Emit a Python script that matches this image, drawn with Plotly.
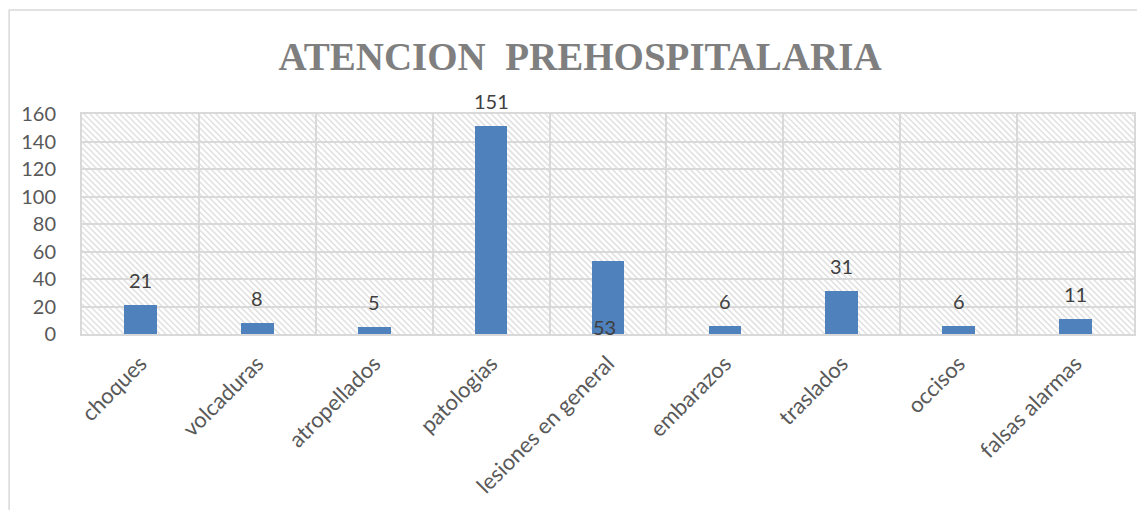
import plotly.graph_objects as go

# Data
categories = [
    "choques",
    "volcaduras",
    "atropellados",
    "patologias",
    "lesiones en general",
    "embarazos",
    "traslados",
    "occisos",
    "falsas alarmas",
]
values = [21, 8, 5, 151, 53, 6, 31, 6, 11]
y_ticks = [0, 20, 40, 60, 80, 100, 120, 140, 160]

# page body adds an 8px margin, so the figure is sized/offset to compensate
PAD = 8
W, H = 1145 - PAD, 510 - PAD
M_L, M_R, M_T, M_B = 82 - PAD, 17 - PAD, 114 - PAD, 176
PLOT_W = W - M_L - M_R
PLOT_H = H - M_T - M_B

BAR_COLOR = "#4f81bd"
GRID = "#d9d9d9"
TEXT = "#595959"
FONT = "Lato, Liberation Sans, sans-serif"

fig = go.Figure()

fig.add_trace(
    go.Bar(
        x=categories,
        y=values,
        width=0.28,
        marker=dict(color=BAR_COLOR, line=dict(width=0)),
        hovertemplate="%{x}: %{y}<extra></extra>",
        showlegend=False,
    )
)

# data labels: above each bar, except "lesiones en general" which sits at the base
for cat, val in zip(categories, values):
    if cat == "lesiones en general":
        fig.add_annotation(x=cat, y=0, text=str(val), showarrow=False,
                           yanchor="middle", yshift=7, xshift=-4,
                           font=dict(family=FONT, size=20, color="#404040"))
    else:
        fig.add_annotation(x=cat, y=val, text=str(val), showarrow=False,
                           yanchor="middle", yshift=25,
                           font=dict(family=FONT, size=20, color="#404040"))

# diagonal hatching of the plot area (decoration, in paper coordinates)
step = 6
segs = []
for c in range(-PLOT_H, PLOT_W, step):
    d0 = max(0, -c)
    d1 = min(PLOT_H, PLOT_W - c)
    if d1 <= d0:
        continue
    x0, x1 = (c + d0) / PLOT_W, (c + d1) / PLOT_W
    y0, y1 = 1 - d0 / PLOT_H, 1 - d1 / PLOT_H
    segs.append(f"M{x0:.5f},{y0:.5f}L{x1:.5f},{y1:.5f}")
fig.add_shape(type="path", path="".join(segs), xref="paper", yref="paper",
              line=dict(color="#e2e2e2", width=1.7), layer="below")

# outer chart border (left/top visible, right/bottom run off the page)
fig.add_shape(type="rect", xref="paper", yref="paper",
              x0=(PAD + 1 - 82) / PLOT_W, x1=(1160 - 82) / PLOT_W,
              y0=-(530 - 114 - PLOT_H) / PLOT_H, y1=(114 + PLOT_H - 10) / PLOT_H,
              line=dict(color=GRID, width=1.5), layer="below")

fig.update_layout(
    width=W,
    height=H,
    margin=dict(l=M_L, r=M_R, t=M_T, b=M_B),
    paper_bgcolor="white",
    plot_bgcolor="white",
    title=dict(
        text="ATENCION&nbsp; PREHOSPITALARIA",
        x=(580 - PAD) / W, xref="container", xanchor="center",
        y=1 - (56 - PAD) / H, yref="container", yanchor="middle",
        font=dict(family="Liberation Serif, serif", size=39, color="#7f7f7f",
                  weight="bold"),
    ),
    bargap=0,
)

fig.update_xaxes(
    type="category",
    tickson="boundaries",
    showgrid=True, gridcolor=GRID, gridwidth=2,
    showline=True, linecolor=GRID, linewidth=2, mirror=True,
    ticks="", tickangle=-45,
    tickfont=dict(family=FONT, size=22, color=TEXT),
    ticklabelstandoff=6,
)
fig.update_yaxes(
    range=[0, 160],
    tickvals=y_ticks,
    showgrid=True, gridcolor=GRID, gridwidth=2,
    showline=True, linecolor=GRID, linewidth=2, mirror=True,
    zeroline=False,
    ticks="",
    tickfont=dict(family=FONT, size=20, color=TEXT),
    ticklabelstandoff=20,
)

fig.write_html("out.html")
